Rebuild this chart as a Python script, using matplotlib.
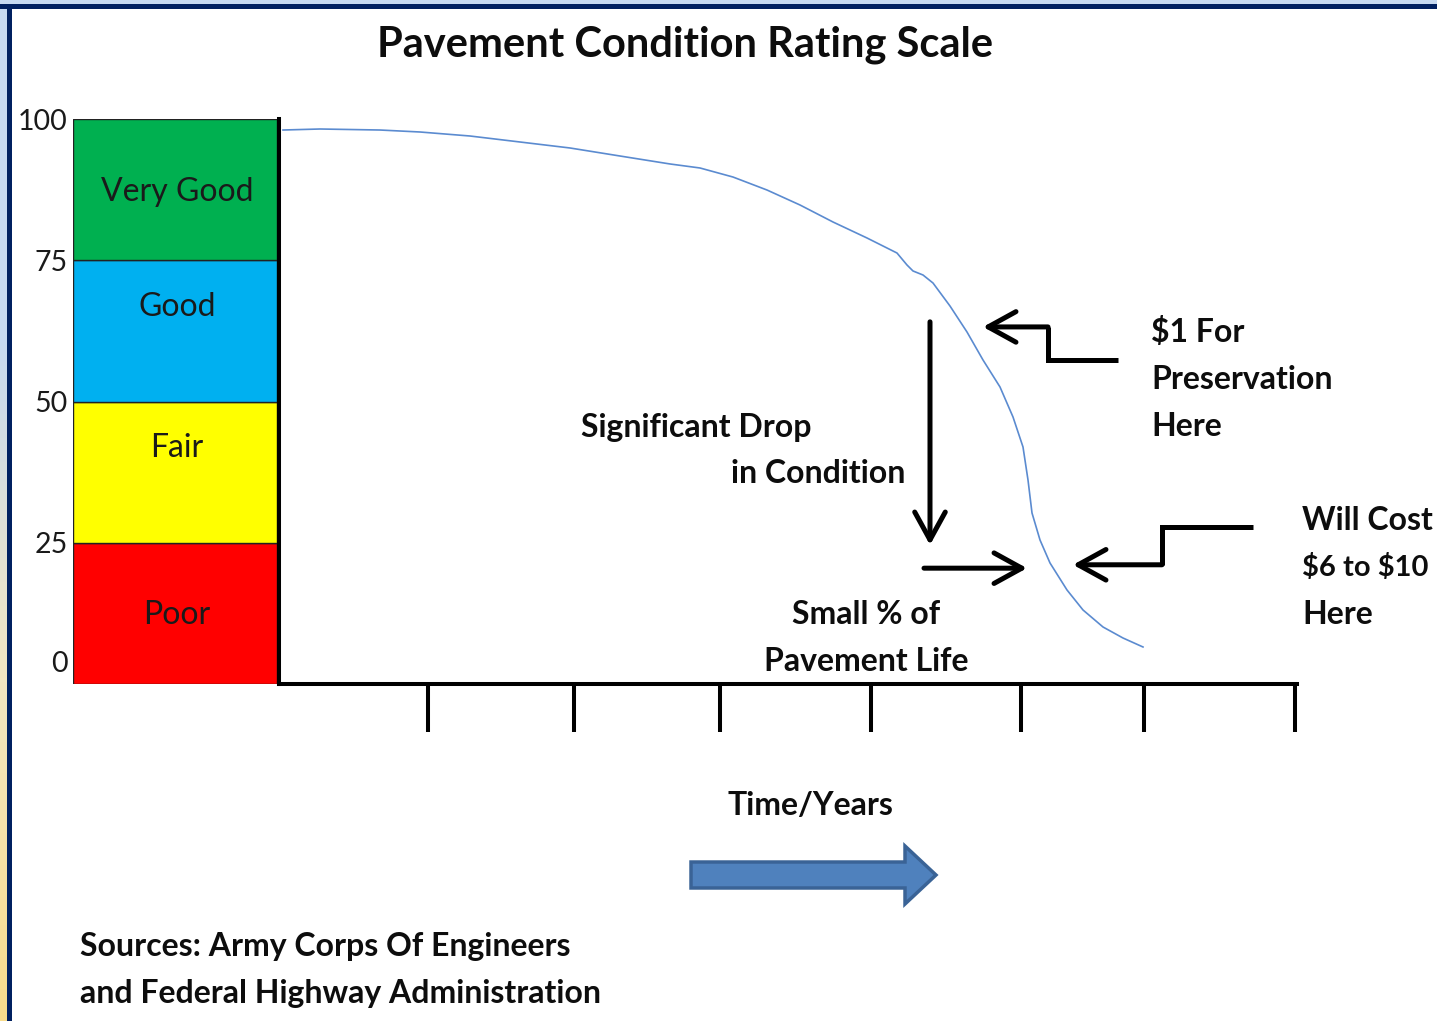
import matplotlib.pyplot as plt
import numpy as np
from matplotlib.colors import LinearSegmentedColormap
from matplotlib.patches import Rectangle, FancyArrow

plt.rcParams["font.family"] = ["Lato", "DejaVu Sans"]

# condition bands of the rating scale
band_names = ["Poor", "Fair", "Good", "Very Good"]
band_bottoms = [0, 25, 50, 75]
band_height = 25
band_colors = ["#FF0000", "#FFFF00", "#00B0F0", "#00B050"]
rating_ticks = [0, 25, 50, 75, 100]

# deterioration curve (time in arbitrary units, rating 0-100)
time = [0.4, 4.1, 10.1, 14.1, 19.1, 24.1, 29.1, 34.1, 39.1, 42.1, 45.4, 48.8,
        52.1, 55.4, 58.8, 61.8, 62.8, 63.4, 64.4, 65.4, 67.1, 68.8, 70.4, 72.1,
        73.4, 74.4, 74.9, 75.3, 76.1, 77.1, 78.8, 80.4, 82.4, 84.4, 86.4]
rating = [98.05, 98.23, 98.05, 97.70, 96.99, 95.93, 94.87, 93.45, 92.04, 91.33,
          89.73, 87.43, 84.78, 81.77, 78.94, 76.28, 74.16, 73.10, 72.39, 70.97,
          66.90, 62.30, 57.35, 52.57, 47.26, 41.95, 36.11, 30.27, 25.49, 21.42,
          16.64, 13.10, 10.09, 8.14, 6.55]
time_ticks = [14.9, 29.5, 44.1, 59.2, 74.2, 86.5, 101.6]

W, H = 1437, 1021
fig = plt.figure(figsize=(W / 100, H / 100), dpi=100)


def px_rect(x0, y0, x1, y1):
    return [x0 / W, 1 - y1 / H, (x1 - x0) / W, (y1 - y0) / H]


# overlay in pixel coords for frame, texts and the big arrow
ov = fig.add_axes([0, 0, 1, 1])
ov.axis("off")
grad = np.linspace(0, 1, 256)[:, None]
cm = LinearSegmentedColormap.from_list("edge", ["#C6D9F1", "#C6D9F1", "#F3E7C2", "#F8DC8C"])
ov.imshow(grad, cmap=cm, extent=(0, 7, H, 0), aspect="auto")
ov.add_patch(Rectangle((0, 0), W, 4.5, color="#C6D9F1", lw=0))
ov.add_patch(Rectangle((0, 4.5), W, 5, color="#002060", lw=0))
ov.add_patch(Rectangle((7, 4.5), 5, H, color="#002060", lw=0))
ov.add_patch(FancyArrow(691, 875, 245, 0, width=26, head_width=58, head_length=31,
                        length_includes_head=True, fc="#4F81BD", ec="#3A6396", lw=2.5))
ov.set_xlim(0, W)
ov.set_ylim(H, 0)

txt = "#0d0d0d"
ov.text(685, 45, "Pavement Condition Rating Scale", ha="center", va="center",
        fontsize=30, weight="bold", color=txt)
bold = dict(fontsize=23, weight="bold", color=txt, va="center")
ov.text(581, 427, "Significant Drop", ha="left", **bold)
ov.text(905, 473, "in Condition", ha="right", **bold)
ov.text(866, 614, "Small % of", ha="center", **bold)
ov.text(866, 661, "Pavement Life", ha="center", **bold)
for i, s in enumerate([r"\$1 For", "Preservation", "Here"]):
    ov.text(1151, 332 + 47 * i, s, ha="left", **bold)
for i, s in enumerate(["Will Cost", r"\$6 to \$10", "Here"]):
    kw = dict(bold, fontsize=21) if i == 1 else bold
    ov.text(1302, 520 + 47 * i, s, ha="left", **kw)
ov.text(810, 805, "Time/Years", ha="center", **bold)
ov.text(80, 946, "Sources: Army Corps Of Engineers", ha="left", **bold)
ov.text(80, 993, "and Federal Highway Administration", ha="left", **bold)

# rating scale bar
ax_bar = fig.add_axes(px_rect(73, 119, 277, 684))
ax_bar.bar(np.zeros(len(band_names)), band_height, bottom=band_bottoms, width=1,
           color=band_colors, edgecolor="#222222", linewidth=1)
label_y = [12.2, 41.8, 66.7, 87.0]
for name, y in zip(band_names, label_y):
    ax_bar.text(0.01, y, name, ha="center", va="center", fontsize=23, color="#1a1a1a")
ax_bar.set_xlim(-0.5, 0.5)
ax_bar.set_ylim(0, 100)
ax_bar.set_xticks([])
ax_bar.set_yticks([3.9] + rating_ticks[1:], labels=[str(v) for v in rating_ticks])
ax_bar.tick_params(axis="y", length=0, pad=4, labelsize=20.5, labelcolor="#1a1a1a")
for sp in ax_bar.spines.values():
    sp.set_visible(False)

# time axis with the deterioration curve
ax = fig.add_axes(px_rect(279, 119, 1297, 684))
ax.patch.set_alpha(0)
ax.plot(time, rating, color="#5B8BD0", lw=1.2)
ax.set_xlim(0, 101.8)
ax.set_ylim(0, 100)
for side in ["top", "right"]:
    ax.spines[side].set_visible(False)
for side in ["left", "bottom"]:
    ax.spines[side].set_linewidth(2.9)
    ax.spines[side].set_color("black")
ax.set_yticks([])
ax.set_xticks(time_ticks, labels=[""] * len(time_ticks))
ax.tick_params(axis="x", direction="out", length=34.5, width=2.9, color="black")

arrow_kw = dict(arrowstyle="->,head_length=1.0,head_width=0.55", lw=3.6, color="black",
                shrinkA=0, shrinkB=0, mutation_scale=20)
ax.annotate("", xy=(65.1, 24.6), xytext=(65.1, 64.1), arrowprops=arrow_kw)
ax.annotate("", xy=(74.8, 20.5), xytext=(64.5, 20.5), arrowprops=arrow_kw)
ax.plot([76.9, 76.9, 83.9], [63.2, 57.3, 57.3], color="black", lw=3.6,
        solid_joinstyle="miter", solid_capstyle="butt")
ax.annotate("", xy=(70.4, 63.2), xytext=(76.9, 63.2), arrowprops=arrow_kw)
ax.plot([88.3, 88.3, 97.4], [21.1, 27.8, 27.8], color="black", lw=3.6,
        solid_joinstyle="miter", solid_capstyle="butt")
ax.annotate("", xy=(79.4, 21.1), xytext=(88.3, 21.1), arrowprops=arrow_kw)

fig.savefig("out.png", dpi=100)
